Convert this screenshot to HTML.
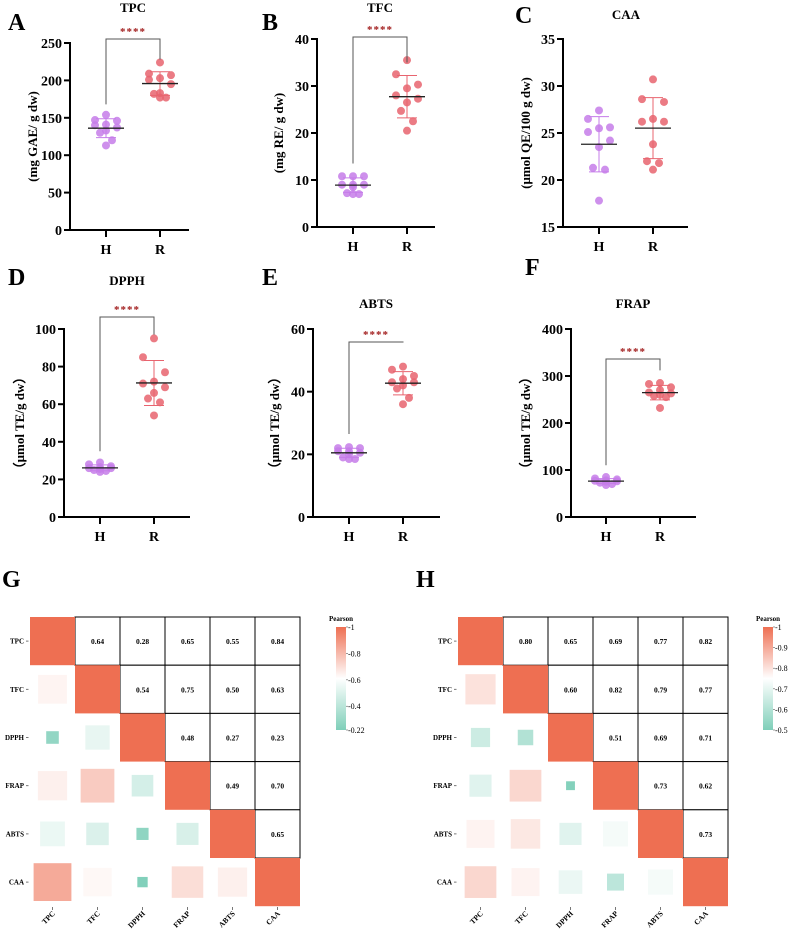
<!DOCTYPE html>
<html><head><meta charset="utf-8"><style>
html,body{margin:0;padding:0;background:#fff}
svg{display:block;font-family:"Liberation Serif",serif;font-weight:bold}
</style></head><body>
<svg id="fig" width="788" height="933" viewBox="0 0 788 933"></svg>
<script>
// ---------- scatter data ----------
const groups = ["H","R"];
const tpcH = [154,147,146,141,140,137,130,120,113,133];
const tpcR = [224,209,207,203,201,195,183,182,177,177];
const tfcH = [10.8,10.8,10.8,9,9,9,7,7,7.2,8.5];
const tfcR = [35.5,32.5,30.3,29.5,28,27.3,26.5,24.7,22.5,20.5];
const caaH = [27.4,26.5,25.6,25.5,25.1,24.2,23.5,21.3,21.1,17.8];
const caaR = [30.7,28.6,28.3,26.5,26.2,26.2,23.8,22,21.8,21.1];
const dpphH = [28,27,26.5,26,26,25.5,25,24.5,24,29];
const dpphR = [95,85,77,72,71,69,66,63,61,54];
const abtsH = [22.3,22,22,21,21,20.5,20,19,18.5,18.5];
const abtsR = [48,47,45,44,43,43,42,41,38,36];
const frapH = [85,82,80,78,77,76,75,73,70,68];
const frapR = [285,283,276,270,265,263,260,258,255,232];
const tpcTicks=[0,50,100,150,200,250], tfcTicks=[0,10,20,30,40], caaTicks=[15,20,25,30,35];
const dpphTicks=[0,20,40,60,80,100], abtsTicks=[0,20,40,60], frapTicks=[0,100,200,300,400];
// ---------- heatmap data ----------
const vars = ["TPC","TFC","DPPH","FRAP","ABTS","CAA"];
const corrG = [[0.64,0.28,0.65,0.55,0.84],[0.54,0.75,0.50,0.63],[0.48,0.27,0.23],[0.49,0.70],[0.65]];
const corrH = [[0.80,0.65,0.69,0.77,0.82],[0.60,0.82,0.79,0.77],[0.51,0.69,0.71],[0.73,0.62],[0.73]];
const legendG = [1,0.8,0.6,0.4,0.22];
const legendH = [1,0.9,0.8,0.7,0.6,0.5];

const NS="http://www.w3.org/2000/svg", svg=document.getElementById('fig');
function mk(tag,attrs,parent,text){const e=document.createElementNS(NS,tag);for(const k in attrs)e.setAttribute(k,attrs[k]);if(text!==undefined)e.textContent=text;(parent||svg).appendChild(e);return e;}
const PURP="#c57ce9", RED="#e8646f";
function mean(a){return a.reduce((s,v)=>s+v,0)/a.length;}
function sd(a){const m=mean(a);return Math.sqrt(a.reduce((s,v)=>s+(v-m)*(v-m),0)/(a.length-1));}

function panel(p){
  const g=mk('g',{});
  
  
  const y=v=>p.yb-(v-p.min)/(p.max-p.min)*(p.yb-p.yt);
  const L=mk('text',{x:p.letter[0],y:p.letter[1],'font-size':24},g,p.letterT);
  
  const T=mk('text',{x:p.title[0],y:p.title[1],'font-size':13,'text-anchor':'middle'},g,p.name);
  
  const yl=mk('text',{x:0,y:0,'font-size':13,'text-anchor':'middle',transform:`translate(${p.ylx},${(p.yb+p.yt)/2}) rotate(-90)`},g,p.ylabel);
  
  const ya=mk('line',{x1:p.ax,y1:p.yt-1,x2:p.ax,y2:p.yb+1,stroke:'#000','stroke-width':2},g);
  
  const xa=mk('line',{x1:p.ax-1,y1:p.yb,x2:p.xe,y2:p.yb,stroke:'#000','stroke-width':2},g);
  
  p.ticks.forEach(t=>{
    mk('line',{x1:p.ax-6,y1:y(t),x2:p.ax,y2:y(t),stroke:'#000','stroke-width':2},g);
    const tl=mk('text',{x:p.ax-8,y:y(t)+5,'font-size':14,'text-anchor':'end'},g,t);
    
  });
  const xs=[p.xH,p.xR];
  groups.forEach((gname,i)=>{
    mk('line',{x1:xs[i],y1:p.yb,x2:xs[i],y2:p.yb+7,stroke:'#000','stroke-width':2},g);
    const xl=mk('text',{x:xs[i],y:p.yb+24,'font-size':14,'text-anchor':'middle'},g,gname);
    
  });
  [p.H,p.R].forEach((vals,i)=>{
    const c=i?RED:PURP, cx=xs[i], m=mean(vals), s=sd(vals);
    const eb=mk('line',{x1:cx,y1:y(m-s),x2:cx,y2:y(m+s),stroke:c,'stroke-width':1},g);
    
    mk('line',{x1:cx-10,y1:y(m-s),x2:cx+10,y2:y(m-s),stroke:c,'stroke-width':1},g);
    mk('line',{x1:cx-10,y1:y(m+s),x2:cx+10,y2:y(m+s),stroke:c,'stroke-width':1},g);
    const sorted=vals.map((v,k)=>[v,k]).sort((a,b)=>b[0]-a[0]);
    sorted.forEach(([v,k],r)=>{
      const off=[0,-11,11,0,-11,11,0,-6,6,0][r%10];
      const pt=mk('circle',{cx:cx+off,cy:y(v),r:4,fill:c,'fill-opacity':0.85},g);
      
    });
    const ml=mk('line',{x1:cx-18,y1:y(m),x2:cx+18,y2:y(m),stroke:'#222','stroke-width':1.3},g);
    
  });
  if(p.br){
    const top=p.br[0];
    const b=mk('path',{d:`M${p.xH},${y(p.br[1])}V${top}H${p.xR}V${y(p.br[2])}`,fill:'none',stroke:'#555','stroke-width':1},g);
    
    const st=mk('text',{x:(p.xH+p.xR)/2,y:top-4,'font-size':11,'text-anchor':'middle',fill:'#a32020','letter-spacing':'1'},g,'****');
    
  }
}
panel({name:'TPC',letterT:'A',letter:[8,30],title:[133,12],ylabel:'(mg GAE/ g dw)',ylx:37,ax:70,yb:230,yt:43,min:0,max:250,ticks:tpcTicks,xH:106,xR:160,xe:189,H:tpcH,R:tpcR,br:[39,168,228]});
panel({name:'TFC',letterT:'B',letter:[262,30],title:[380,12],ylabel:'(mg RE/ g dw)',ylx:283,ax:317,yb:227,yt:39,min:0,max:40,ticks:tfcTicks,xH:353,xR:407,xe:435,H:tfcH,R:tfcR,br:[37,13.5,35]});
panel({name:'CAA',letterT:'C',letter:[515,23],title:[626,19],ylabel:'(μmol QE/100 g dw)',ylx:530,ax:563,yb:227,yt:39,min:15,max:35,ticks:caaTicks,xH:599,xR:653,xe:688,H:caaH,R:caaR,br:null});
panel({name:'DPPH',letterT:'D',letter:[8,285],title:[127,285],ylabel:'（μmol TE/g dw）',ylx:24,ax:64,yb:517,yt:329,min:0,max:100,ticks:dpphTicks,xH:100,xR:154,xe:190,H:dpphH,R:dpphR,br:[317,35,97]});
panel({name:'ABTS',letterT:'E',letter:[262,285],title:[376,308],ylabel:'（μmol TE/g dw）',ylx:279,ax:313,yb:517,yt:329,min:0,max:60,ticks:abtsTicks,xH:349,xR:403,xe:440,H:abtsH,R:abtsR,br:[342,26.5,56]});
panel({name:'FRAP',letterT:'F',letter:[525,275],title:[633,308],ylabel:'（μmol TE/g dw）',ylx:530,ax:571,yb:517,yt:329,min:0,max:400,ticks:frapTicks,xH:606,xR:660,xe:696,H:frapH,R:frapR,br:[359,110,312]});

// ---------- heatmaps ----------
const TEAL=[127,207,185], WHITE=[255,255,255], ORANGE=[238,111,82];
function mix(a,b,t){return 'rgb('+a.map((v,i)=>Math.round(v+(b[i]-v)*t)).join(',')+')';}
function col(v,min){const t=Math.max(0,Math.min(1,(v-min)/(1-min)));return t<0.5?mix(TEAL,WHITE,t*2):mix(WHITE,ORANGE,(t-0.5)*2);}
function heat(h){
  const g=mk('g',{});
  
  
  const L=mk('text',{x:h.letter[0],y:h.letter[1],'font-size':24},g,h.letterT);
  
  const cw=45, chh=48.2, x0=h.x0, y0=617;
  const val=(i,j)=>{if(i===j)return 1;const a=Math.min(i,j),b=Math.max(i,j);return h.m[a][b-a-1];};
  vars.forEach((v,i)=>{
    const yy=y0+chh*(i+0.5);
    mk('line',{x1:x0-4,y1:yy,x2:x0-1.5,y2:yy,stroke:'#555','stroke-width':0.8},g);
    const rl=mk('text',{x:x0-6,y:yy+2.5,'font-size':7,'text-anchor':'end'},g,v);
    
    const cx=x0+cw*(i+0.5);
    mk('line',{x1:cx,y1:907,x2:cx,y2:910,stroke:'#555','stroke-width':0.8},g);
    const cl=mk('text',{x:0,y:0,'font-size':7.5,'text-anchor':'end',transform:`translate(${cx+3},${914}) rotate(-45)`},g,v);
    
  });
  for(let i=0;i<6;i++)for(let j=0;j<6;j++){
    const v=val(i,j), X=x0+cw*j, Y=y0+chh*i;
    if(j>i){
      const r=mk('rect',{x:X,y:Y,width:cw,height:chh,fill:'#fff',stroke:'#000','stroke-width':1},g);
      
      const t=mk('text',{x:X+cw/2,y:Y+chh/2+3,'font-size':7.5,'text-anchor':'middle'},g,v.toFixed(2));
      
    }
  }
  for(let i=0;i<6;i++)for(let j=0;j<=i;j++){
    const v=val(i,j), X=x0+cw*j, Y=y0+chh*i;
    const sw=i===j?cw:Math.max(4,cw*(v-h.sz)/(1-h.sz)), sh=i===j?chh:sw;
    const r=mk('rect',{x:X+(cw-sw)/2,y:Y+(chh-sh)/2,width:sw,height:sh,fill:i===j?'rgb(238,111,82)':col(v,h.min)},g);
    
  }
  const lx=h.lx, ly0=627, ly1=730;
  const gid='grad'+h.letterT;
  const defs=mk('defs',{},g); const lg=mk('linearGradient',{id:gid,x1:0,y1:1,x2:0,y2:0},defs);
  mk('stop',{offset:'0','stop-color':mix(TEAL,TEAL,0)},lg);
  mk('stop',{offset:'0.5','stop-color':'#fff'},lg);
  mk('stop',{offset:'1','stop-color':mix(ORANGE,ORANGE,0)},lg);
  const pt=mk('text',{x:lx+5,y:621,'font-size':7,'text-anchor':'middle'},g,'Pearson');
  
  const cb=mk('rect',{x:lx,y:ly0,width:10,height:ly1-ly0,fill:`url(#${gid})`},g);
  
  h.leg.forEach(v=>{
    const yy=ly1-(v-h.min)/(1-h.min)*(ly1-ly0);
    mk('line',{x1:lx+10,y1:yy,x2:lx+12,y2:yy,stroke:'#555','stroke-width':0.6},g);
    const t=mk('text',{x:lx+12,y:yy+3,'font-size':8,'font-weight':'normal'},g,'-'+v);
    
  });
}
heat({name:'heatmap-g',letterT:'G',letter:[2,587],x0:30,m:corrG,min:0.22,sz:0,lx:336,leg:legendG});
heat({name:'heatmap-h',letterT:'H',letter:[416,587],x0:458,m:corrH,min:0.5,sz:0.39,lx:763,leg:legendH});
</script>
</body></html>
